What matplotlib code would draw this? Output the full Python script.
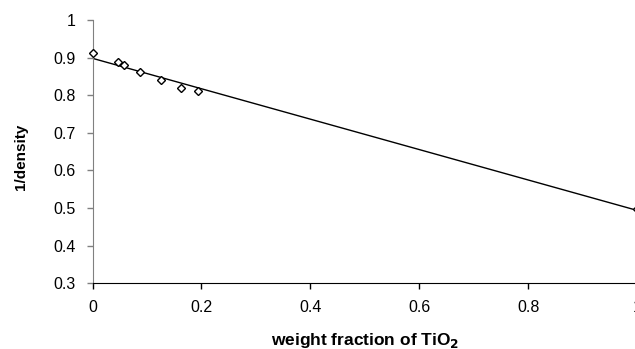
import numpy as np
import matplotlib
matplotlib.use("Agg")
import matplotlib.pyplot as plt

plt.rcParams['font.family'] = ['Liberation Sans', 'DejaVu Sans']

# measured samples: weight fraction of TiO2 vs inverse density
weight_frac = [0.0, 0.046, 0.057, 0.088, 0.125, 0.163, 0.193, 1.0]
inv_density = [0.913, 0.888, 0.881, 0.862, 0.840, 0.821, 0.811, 0.498]

x_ticks = [0, 0.2, 0.4, 0.6, 0.8, 1]
y_ticks = [0.3, 0.4, 0.5, 0.6, 0.7, 0.8, 0.9, 1]

fig = plt.figure(figsize=(6.35, 3.49), dpi=100)
ax = fig.add_axes([0.1457, 0.189, 0.8575, 0.7525])

# linear trendline through all samples
slope, intercept = np.polyfit(weight_frac, inv_density, 1)
xs = np.array([0.0, 1.0])
ax.plot(xs, slope * xs + intercept, color="black", lw=1.0, zorder=2)

ax.plot(weight_frac, inv_density, linestyle="none", marker="D", markersize=4.3,
        markerfacecolor="white", markeredgecolor="black", markeredgewidth=1.0,
        clip_on=False, zorder=3)

ax.set_xlim(0, 1)
ax.set_ylim(0.3, 1)
ax.set_xticks(x_ticks)
ax.set_xticklabels(["0", "0.2", "0.4", "0.6", "0.8", "1"])
ax.set_yticks(y_ticks)
ax.set_yticklabels(["0.3", "0.4", "0.5", "0.6", "0.7", "0.8", "0.9", "1"])

for side in ["top", "right"]:
    ax.spines[side].set_visible(False)
ax.spines["left"].set_color("#808080")
ax.spines["bottom"].set_color("black")
ax.tick_params(direction="out", length=4, width=1, labelsize=11.5, pad=8)
ax.tick_params(axis="y", color="#808080")

ax.set_xlabel("weight fraction of TiO$_\\mathbf{2}$", fontsize=12.5, fontweight="bold", labelpad=12)
ax.set_ylabel("1/density", fontsize=11, fontweight="bold", labelpad=22)
ax.yaxis.set_label_coords(-0.118, 0.48)

fig.savefig("out.png", dpi=100)
